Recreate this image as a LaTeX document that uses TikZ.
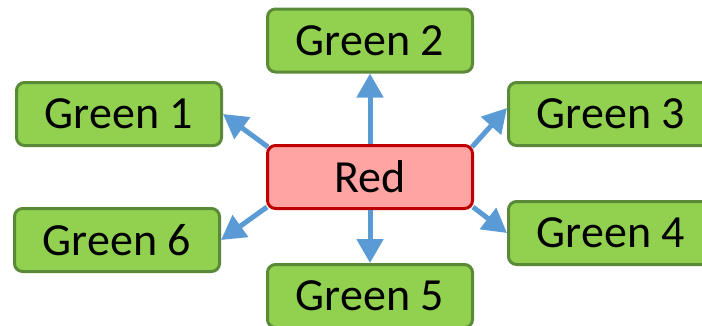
\documentclass[tikz,border=0pt]{standalone}
\usepackage{fontspec}
\setmainfont{Carlito}
\usetikzlibrary{arrows.meta,calc}
\definecolor{gfill}{HTML}{92D050}
\definecolor{gline}{HTML}{5A8A38}
\definecolor{rfill}{HTML}{FFA3A3}
\definecolor{rline}{HTML}{C00000}
\definecolor{arr}{HTML}{5B9BD5}
\tikzset{
  box/.style={rectangle, rounded corners=8pt, line width=3pt, minimum width=205pt, minimum height=63pt, inner sep=0pt, font=\fontsize{46}{55}\selectfont, text=black},
  gbox/.style={box, draw=gline, fill=gfill},
  rbox/.style={box, draw=rline, fill=rfill},
  conn/.style={draw=arr, line width=5pt, -{Triangle[width=26pt,length=24pt]}}
}
\begin{document}
\begin{tikzpicture}[x=1pt,y=-1pt]
\useasboundingbox (0,0) rectangle (702,325);
\node[rbox] (red) at (370,177) {Red};
\node[gbox] (g1) at (119,114) {Green 1};
\node[gbox] (g2) at (370,40.5) {Green 2};
\node[gbox] (g3) at (611,114) {Green 3};
\node[gbox] (g4) at (611,233) {Green 4};
\node[gbox] (g5) at (370,296) {Green 5};
\node[gbox] (g6) at (117,240) {Green 6};
\draw[conn] (red.north) -- (g2.south);
\draw[conn] (red.south) -- (g5.south |- g5.north);
\draw[conn] ($(red.north west)+(2,3)$) -- (g1.east);
\draw[conn] ($(red.north east)+(-2,3)$) -- ($(g3.west)+(0,-6)$);
\draw[conn] ($(red.south east)+(-1,-3)$) -- (g4.west);
\draw[conn] ($(red.south west)+(1,-3)$) -- (g6.east);
\end{tikzpicture}
\end{document}
